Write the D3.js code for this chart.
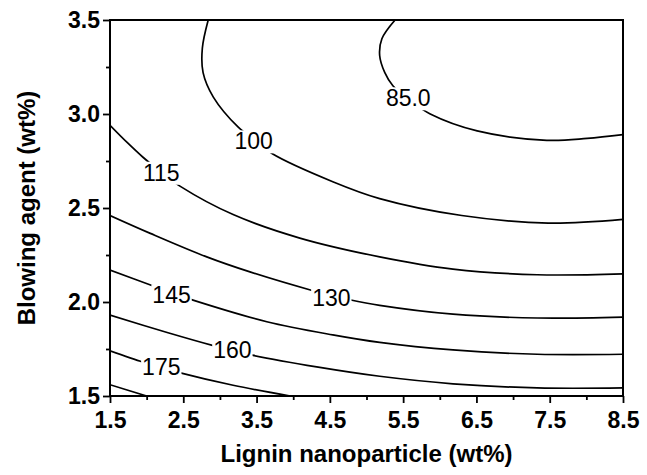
<!DOCTYPE html>
<html>
<head>
<meta charset="utf-8">
<title>Contour plot</title>
<script src="https://cdnjs.cloudflare.com/ajax/libs/d3/7.8.5/d3.min.js"></script>
<style>
    body{ margin:0; background:#fff; }
    svg{ font-family: Arial, "Liberation Sans", sans-serif; }
</style>
</head>
<body>
<script>
    // axis ticks
    const xTicks = [1.5, 2.5, 3.5, 4.5, 5.5, 6.5, 7.5, 8.5];
    const xMinor = [2.0, 3.0, 4.0, 5.0, 6.0, 7.0, 8.0];
    const yTicks = [1.5, 2.0, 2.5, 3.0, 3.5];
    const yMinor = [1.75, 2.25, 2.75, 3.25];

    // contour lines, [lignin wt%, blowing agent wt%]
    const c85  = [[5.39,3.50],[5.21,3.40],[5.18,3.31],[5.25,3.22],[5.36,3.15],[5.60,3.07],[5.87,3.00],[6.51,2.91],[7.46,2.86],[8.01,2.87],[8.50,2.89]];
    const c100 = [[2.84,3.50],[2.76,3.35],[2.77,3.22],[2.91,3.09],[3.25,2.93],[3.48,2.86],[3.71,2.79],[4.54,2.64],[5.18,2.55],[6.30,2.46],[7.48,2.42],[8.50,2.44]];
    const c115 = [[1.50,2.94],[1.73,2.85],[1.95,2.77],[2.20,2.69],[2.46,2.615],[3.18,2.465],[4.09,2.34],[5.18,2.24],[6.18,2.175],[7.33,2.145],[8.50,2.15]];
    const c130 = [[1.50,2.46],[2.05,2.365],[2.82,2.24],[3.41,2.16],[4.27,2.06],[4.52,2.035],[4.77,2.012],[5.18,1.982],[6.18,1.935],[7.33,1.915],[8.50,1.92]];
    const c145 = [[1.50,2.17],[2.09,2.085],[2.33,2.05],[2.59,2.015],[3.64,1.895],[4.54,1.825],[5.18,1.785],[6.18,1.745],[7.33,1.722],[8.50,1.722]];
    const c160 = [[1.50,1.93],[2.28,1.838],[2.91,1.768],[3.18,1.741],[3.44,1.717],[4.32,1.655],[5.18,1.605],[6.18,1.565],[7.33,1.543],[8.50,1.543]];
    const c175 = [[1.50,1.74],[1.95,1.68],[2.20,1.652],[2.46,1.623],[3.18,1.557],[3.96,1.50]];
    const c190 = [[1.50,1.56],[2.00,1.50]];
    const contours = [c85, c100, c115, c130, c145, c160, c175, c190];

    // contour labels
    const labelText = ['85.0', '100', '115', '130', '145', '160', '175'];
    const labelX = [5.57, 3.46, 2.20, 4.52, 2.34, 3.17, 2.20];
    const labelY = [3.085, 2.856, 2.689, 2.024, 2.037, 1.745, 1.654];

    const W = 647, H = 475;
    const margin = {top: 20, right: 24, bottom: 79, left: 110};
    const w = W - margin.left - margin.right;
    const h = H - margin.top - margin.bottom;

    const svg = d3.select('body').append('svg')
        .attr('width', W)
        .attr('height', H);
    const g = svg.append('g')
        .attr('transform', `translate(${margin.left},${margin.top})`);

    const x = d3.scaleLinear().domain([1.5, 8.5]).range([0, w]);
    const y = d3.scaleLinear().domain([1.5, 3.5]).range([h, 0]);

    g.append('clipPath').attr('id', 'clip')
        .append('rect').attr('width', w).attr('height', h);

    //contour lines
    const lineGen = d3.line()
        .x(d => x(d[0]))
        .y(d => y(d[1]))
        .curve(d3.curveCatmullRom.alpha(0.5));

    g.append('g').attr('clip-path', 'url(#clip)')
        .selectAll('path').data(contours).enter()
        .append('path')
        .attr('d', lineGen)
        .attr('fill', 'none')
        .attr('stroke', '#000')
        .attr('stroke-width', 1.7);

    //labels with white box to break the line
    const labels = g.append('g').selectAll('g')
        .data(labelText).enter()
        .append('g')
        .attr('transform', (d, i) => `translate(${x(labelX[i])},${y(labelY[i])})`);
    labels.append('rect').attr('fill', '#fff');
    labels.append('text')
        .attr('text-anchor', 'middle')
        .attr('dy', '0.36em')
        .attr('font-size', 23)
        .text(d => d);
    labels.each(function() {
        const b = d3.select(this).select('text').node().getBBox();
        d3.select(this).select('rect')
            .attr('x', b.x - 1).attr('y', b.y + 2)
            .attr('width', b.width + 2).attr('height', b.height - 3);
    });

    //axes
    g.append('g')
        .attr('transform', `translate(0,${h})`)
        .call(d3.axisBottom(x).tickValues(xTicks).tickSize(7).tickPadding(9)
            .tickFormat(d3.format('.1f')));
    g.append('g')
        .attr('transform', `translate(0,${h})`)
        .call(d3.axisBottom(x).tickValues(xMinor).tickSize(4).tickFormat(''));
    g.append('g')
        .call(d3.axisLeft(y).tickValues(yTicks).tickSize(7).tickPadding(3)
            .tickFormat(d3.format('.1f')));
    g.append('g')
        .call(d3.axisLeft(y).tickValues(yMinor).tickSize(4).tickFormat(''));

    g.selectAll('.domain').remove();
    g.selectAll('.tick line').attr('stroke', '#000').attr('stroke-width', 1.8);
    g.selectAll('.tick text')
        .attr('fill', '#000')
        .attr('font-size', 23)
        .attr('font-weight', 'bold')
        .attr('font-family', 'Arial, "Liberation Sans", sans-serif');

    //frame
    g.append('rect')
        .attr('width', w).attr('height', h)
        .attr('fill', 'none')
        .attr('stroke', '#000')
        .attr('stroke-width', 2);

    //titles
    svg.append('text')
        .attr('x', margin.left + w / 2)
        .attr('y', 462)
        .attr('text-anchor', 'middle')
        .attr('font-size', 24)
        .attr('font-weight', 'bold')
        .text('Lignin nanoparticle (wt%)');
    svg.append('text')
        .attr('transform', `translate(35,${margin.top + h / 2}) rotate(-90)`)
        .attr('text-anchor', 'middle')
        .attr('font-size', 24)
        .attr('font-weight', 'bold')
        .text('Blowing agent (wt%)');
</script>
</body>
</html>
